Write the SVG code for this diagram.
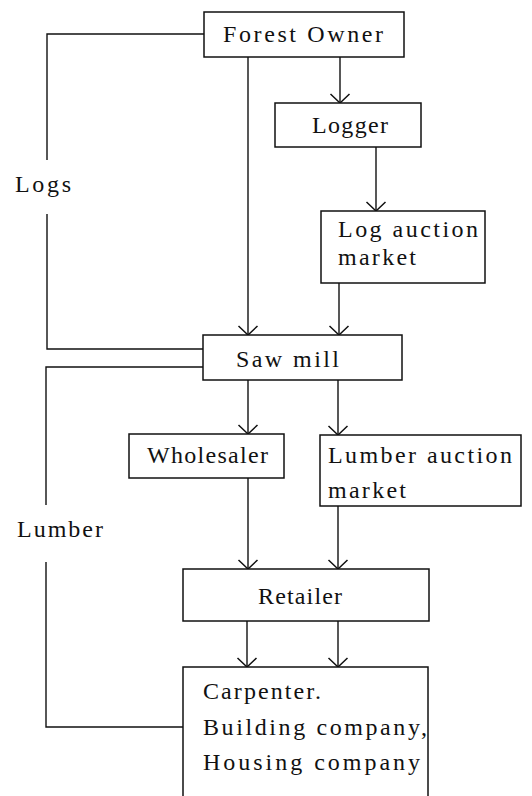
<svg xmlns="http://www.w3.org/2000/svg" width="532" height="796" viewBox="0 0 532 796">
<defs>
<marker id="arr" orient="auto" markerUnits="userSpaceOnUse" refX="0" refY="0" markerWidth="20" markerHeight="20" overflow="visible">
<path d="M-9,-9.5 L0,0 L-9,9.5" fill="none" stroke="#111" stroke-width="1.5"/>
</marker>
</defs>
<g id="connectors" fill="none" stroke="#111" stroke-width="1.4">
<path d="M248,57 V335" marker-end="url(#arr)"/>
<path d="M340,57 V103" marker-end="url(#arr)"/>
<path d="M376,147 V211" marker-end="url(#arr)"/>
<path d="M339,283 V335" marker-end="url(#arr)"/>
<path d="M248,380 V434" marker-end="url(#arr)"/>
<path d="M338,380 V435" marker-end="url(#arr)"/>
<path d="M248,478 V569" marker-end="url(#arr)"/>
<path d="M338,506 V569" marker-end="url(#arr)"/>
<path d="M247,621 V667" marker-end="url(#arr)"/>
<path d="M338,621 V667" marker-end="url(#arr)"/>
<path d="M204,34 H47 V160"/>
<path d="M47,214 V349 H203"/>
<path d="M203,367 H46 V505"/>
<path d="M46,562 V727 H183"/>
</g>
<g id="labels">
<text x="15" y="192" font-family="Liberation Serif" font-size="24" textLength="56" lengthAdjust="spacing" fill="#111">Logs</text>
<text x="17" y="537" font-family="Liberation Serif" font-size="24" textLength="86" lengthAdjust="spacing" fill="#111">Lumber</text>
</g>
<g id="forest-owner">
<rect x="204" y="12" width="200" height="45" fill="#fff" stroke="#111" stroke-width="1.5"/>
<text x="223" y="42" font-family="Liberation Serif" font-size="24" textLength="160" lengthAdjust="spacing" fill="#111">Forest Owner</text>
</g>
<g id="logger">
<rect x="275" y="103" width="146" height="44" fill="#fff" stroke="#111" stroke-width="1.5"/>
<text x="312" y="133" font-family="Liberation Serif" font-size="24" textLength="76" lengthAdjust="spacing" fill="#111">Logger</text>
</g>
<g id="log-auction">
<rect x="321" y="211" width="164" height="72" fill="#fff" stroke="#111" stroke-width="1.5"/>
<text x="338" y="237" font-family="Liberation Serif" font-size="24" textLength="140" lengthAdjust="spacing" fill="#111">Log auction</text>
<text x="338" y="265" font-family="Liberation Serif" font-size="24" textLength="78" lengthAdjust="spacing" fill="#111">market</text>
</g>
<g id="saw-mill">
<rect x="203" y="335" width="199" height="45" fill="#fff" stroke="#111" stroke-width="1.5"/>
<text x="236" y="367" font-family="Liberation Serif" font-size="24" textLength="103" lengthAdjust="spacing" fill="#111">Saw mill</text>
</g>
<g id="wholesaler">
<rect x="129" y="434" width="155" height="44" fill="#fff" stroke="#111" stroke-width="1.5"/>
<text x="147" y="463" font-family="Liberation Serif" font-size="24" textLength="121" lengthAdjust="spacing" fill="#111">Wholesaler</text>
</g>
<g id="lumber-auction">
<rect x="320" y="435" width="201" height="71" fill="#fff" stroke="#111" stroke-width="1.5"/>
<text x="328" y="463" font-family="Liberation Serif" font-size="24" textLength="184" lengthAdjust="spacing" fill="#111">Lumber auction</text>
<text x="328" y="498" font-family="Liberation Serif" font-size="24" textLength="78" lengthAdjust="spacing" fill="#111">market</text>
</g>
<g id="retailer">
<rect x="183" y="569" width="246" height="52" fill="#fff" stroke="#111" stroke-width="1.5"/>
<text x="258" y="604" font-family="Liberation Serif" font-size="24" textLength="84" lengthAdjust="spacing" fill="#111">Retailer</text>
</g>
<g id="carpenter">
<rect x="183" y="667" width="245" height="140" fill="#fff" stroke="#111" stroke-width="1.5"/>
<text x="203" y="699" font-family="Liberation Serif" font-size="24" textLength="118" lengthAdjust="spacing" fill="#111">Carpenter.</text>
<text x="203" y="735" font-family="Liberation Serif" font-size="24" textLength="224" lengthAdjust="spacing" fill="#111">Building company,</text>
<text x="203" y="770" font-family="Liberation Serif" font-size="24" textLength="217" lengthAdjust="spacing" fill="#111">Housing company</text>
</g>
</svg>
